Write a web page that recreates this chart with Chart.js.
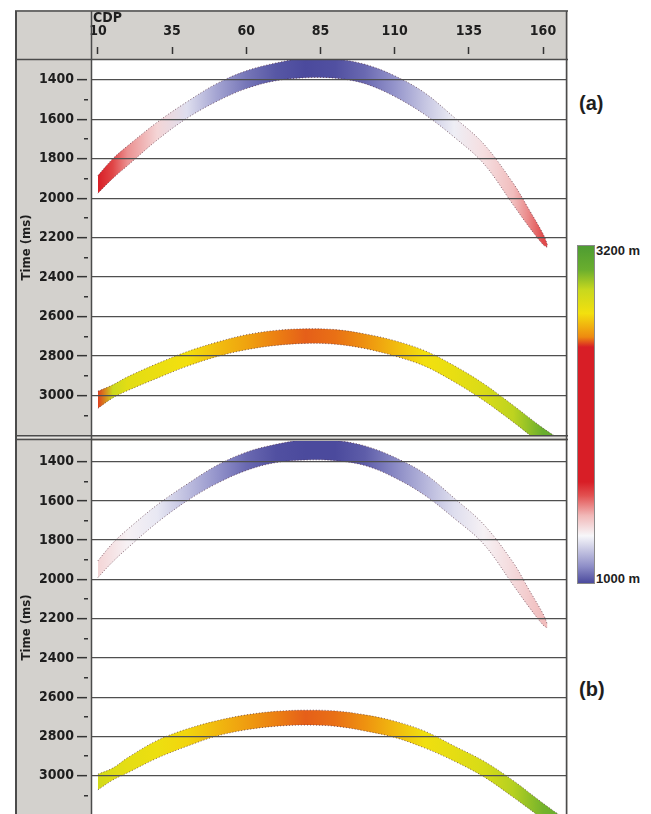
<!DOCTYPE html>
<html>
<head>
<meta charset="utf-8">
<script src="https://cdn.jsdelivr.net/npm/chart.js@4.4.1/dist/chart.umd.min.js"></script>
<style>
  html, body { margin: 0; padding: 0; background: #fff; overflow: hidden; }
  body { width: 651px; height: 814px; position: relative; }
  canvas { position: absolute; left: 15px; }
  #chartA { top: 10px; }
  #chartB { top: 438px; }
  .lbl { position: absolute; font-weight: bold; color: #1e1e1e; white-space: nowrap; font-family: 'Liberation Sans', Arial, sans-serif; }
  .narrow { font-family: 'Liberation Sans Narrow', 'DejaVu Sans Condensed', 'Liberation Sans', sans-serif; }
  #cbar { position: absolute; left: 577px; top: 245px; width: 16px; height: 337px; border: 1px solid #8a8a8a; }
</style>
</head>
<body>
<canvas id="chartA" width="553" height="428"></canvas>
<canvas id="chartB" width="553" height="376"></canvas>
<div class="lbl narrow" style="left:93px; top:9px; font-size:14px;">CDP</div>
<div class="lbl" style="left:579px; top:92px; font-size:20px;">(a)</div>
<div class="lbl" style="left:579px; top:678px; font-size:20px;">(b)</div>
<div id="cbar"></div>
<div class="lbl" style="left:596px; top:243px; font-size:13px;">3200 m</div>
<div class="lbl" style="left:596px; top:571px; font-size:13px;">1000 m</div>
<script>
  // axis ticks
  const cdpTicks = [10, 35, 60, 85, 110, 135, 160];
  const timeLabels = [1400, 1600, 1800, 2000, 2200, 2400, 2600, 2800, 3000];
  const timeTicks = [1400, 1500, 1600, 1700, 1800, 1900, 2000, 2100, 2200, 2300, 2400, 2500, 2600, 2700, 2800, 2900, 3000, 3100];

  // colour scale (interval velocity, m)
  const velRange = [1000, 3200];
  const cbarStops = [0, 0.05, 0.14, 0.2, 0.26, 0.3, 0.7, 0.73, 0.8, 0.87, 0.93, 1];
  const cbarColors = ['#4b4a9d', '#8f8fc8', '#f7f7fa', '#f1b8b8', '#e25050', '#d81e26', '#d81e26', '#ee8a10', '#f3e00e', '#c8d81e', '#6aae2e', '#4e9c32'];

  // (a) shallow event
  const cdpUpA = [10, 15, 20, 30, 40, 50, 60, 70, 80, 90, 100, 110, 120, 130, 140, 150, 155, 160, 161.5];
  const topUpA = [1885, 1800, 1735, 1615, 1512, 1420, 1355, 1315, 1290, 1295, 1322, 1380, 1465, 1590, 1725, 1925, 2050, 2180, 2235];
  const botUpA = [1975, 1900, 1835, 1705, 1595, 1510, 1445, 1405, 1390, 1392, 1420, 1485, 1575, 1690, 1825, 2035, 2140, 2235, 2250];
  const velUpA = [1660, 1590, 1490, 1380, 1260, 1150, 1070, 1020, 1000, 1010, 1050, 1120, 1210, 1290, 1360, 1430, 1500, 1580, 1580];

  // (a) deep event
  const cdpLoA = [10, 15, 20, 30, 40, 50, 60, 70, 80, 90, 100, 110, 120, 130, 140, 150, 160, 166];
  const topLoA = [2978, 2946, 2905, 2838, 2778, 2730, 2692, 2670, 2662, 2666, 2688, 2722, 2772, 2848, 2940, 3050, 3165, 3225];
  const botLoA = [3065, 3012, 2975, 2912, 2852, 2803, 2768, 2746, 2736, 2740, 2762, 2800, 2850, 2930, 3025, 3135, 3250, 3300];
  const velLoA = [2560, 2900, 2820, 2790, 2760, 2700, 2650, 2600, 2580, 2590, 2620, 2690, 2760, 2800, 2850, 2930, 3050, 3080];

  // (b) shallow event
  const cdpUpB = [10, 15, 20, 30, 40, 50, 60, 70, 80, 90, 100, 110, 120, 130, 140, 150, 155, 160, 161.5];
  const topUpB = [1905, 1815, 1745, 1620, 1515, 1420, 1352, 1312, 1288, 1292, 1320, 1378, 1460, 1585, 1720, 1915, 2045, 2175, 2230];
  const botUpB = [1990, 1910, 1840, 1710, 1600, 1512, 1445, 1405, 1392, 1395, 1420, 1482, 1570, 1688, 1820, 2030, 2135, 2232, 2248];
  const velUpB = [1380, 1350, 1320, 1280, 1200, 1120, 1050, 1010, 1000, 1000, 1030, 1100, 1180, 1260, 1320, 1370, 1400, 1430, 1430];

  // (b) deep event
  const cdpLoB = [10, 15, 20, 30, 40, 50, 60, 70, 80, 90, 100, 110, 120, 130, 140, 150, 160, 166];
  const topLoB = [2992, 2961, 2908, 2820, 2762, 2720, 2690, 2672, 2666, 2670, 2690, 2722, 2772, 2848, 2925, 3025, 3140, 3205];
  const botLoB = [3072, 3022, 2985, 2910, 2850, 2798, 2766, 2748, 2742, 2748, 2772, 2805, 2858, 2925, 3005, 3110, 3222, 3290];
  const velLoB = [2880, 2840, 2810, 2780, 2740, 2690, 2640, 2600, 2580, 2590, 2620, 2690, 2770, 2810, 2860, 2940, 3030, 3060];

  const FONT = "'Liberation Sans Narrow', 'DejaVu Sans Condensed', 'Liberation Sans', sans-serif";
  const GRAY = '#d3d1cd';
  const LINE = '#4b4b4b';
  const INK = '#1e1e1e';

  function hexToRgb(h) {
    const n = parseInt(h.slice(1), 16);
    return [(n >> 16) & 255, (n >> 8) & 255, n & 255];
  }

  function velColor(v) {
    const f = Math.min(1, Math.max(0, (v - velRange[0]) / (velRange[1] - velRange[0])));
    let i = 0;
    while (i < cbarStops.length - 2 && f > cbarStops[i + 1]) i++;
    const t = (f - cbarStops[i]) / (cbarStops[i + 1] - cbarStops[i]);
    const a = hexToRgb(cbarColors[i]);
    const b = hexToRgb(cbarColors[i + 1]);
    const c = a.map((x, k) => Math.round(x + (b[k] - x) * t));
    return `rgb(${c[0]},${c[1]},${c[2]})`;
  }

  function bandFill(cdp, vel) {
    return (ctx) => {
      const chart = ctx.chart;
      const area = chart.chartArea;
      if (!area) return 'rgba(0,0,0,0)';
      const xs = chart.scales.x;
      const g = chart.ctx.createLinearGradient(area.left, 0, area.right, 0);
      cdp.forEach((c, i) => {
        const p = (xs.getPixelForValue(c) - area.left) / (area.right - area.left);
        g.addColorStop(Math.min(1, Math.max(0, p)), velColor(vel[i]));
      });
      return g;
    };
  }

  function band(cdp, top, bot, vel) {
    const edge = {
      borderColor: 'rgba(80,40,55,0.7)',
      borderWidth: 1,
      borderDash: [1, 2],
      pointRadius: 0,
      tension: 0.35
    };
    return [
      { ...edge, data: cdp.map((c, i) => ({ x: c, y: top[i] })), fill: false },
      { ...edge, data: cdp.map((c, i) => ({ x: c, y: bot[i] })), fill: '-1', backgroundColor: bandFill(cdp, vel) }
    ];
  }

  // grey frame, white plot area and the panel rules
  const framePlugin = {
    id: 'frame',
    beforeDraw(chart, args, opts) {
      const { ctx, width, height, chartArea: a } = chart;
      ctx.save();
      ctx.fillStyle = GRAY;
      ctx.fillRect(0, 0, width, height);
      if (opts.bottomLine) {
        ctx.fillStyle = '#e4e3e0';
        ctx.fillRect(0, a.bottom, width, height - a.bottom);
      }
      ctx.fillStyle = '#fff';
      ctx.fillRect(a.left, a.top, a.right - a.left, a.bottom - a.top);
      ctx.restore();
    },
    afterDraw(chart, args, opts) {
      const { ctx, width, height, chartArea: a } = chart;
      const line = (x1, y1, x2, y2, w) => {
        ctx.lineWidth = w;
        ctx.beginPath();
        ctx.moveTo(x1, y1);
        ctx.lineTo(x2, y2);
        ctx.stroke();
      };
      ctx.save();
      ctx.strokeStyle = LINE;
      const yTop = opts.header ? 1 : 0;
      line(1, yTop, 1, height, 2);
      line(width - 1.5, yTop, width - 1.5, height, 1.5);
      line(a.left - 0.5, yTop, a.left - 0.5, height, 1.5);
      if (opts.header) {
        line(0, 1, width, 1, 1.5);
        line(0, a.top - 0.5, width, a.top - 0.5, 1.5);
      }
      if (opts.bottomLine) line(0, a.bottom + 0.75, width, a.bottom + 0.75, 1.5);
      if (opts.topLine) line(0, a.top - 1.5, width, a.top - 1.5, 1.5);
      ctx.restore();
    }
  };

  // no label overhang padding, the plot fills the panel
  function noOverhang(s) {
    s.paddingTop = 0;
    s.paddingBottom = 0;
    s.paddingLeft = 0;
    s.paddingRight = 0;
  }

  function makeChart(id, events, yMin, yMax, showTop, frameOpts, padding) {
    return new Chart(document.getElementById(id), {
      type: 'line',
      data: { datasets: events.flatMap(e => band(...e)) },
      options: {
        responsive: false,
        animation: false,
        layout: { padding, autoPadding: false },
        plugins: {
          legend: { display: false },
          tooltip: { enabled: false },
          frame: frameOpts
        },
        scales: {
          x: {
            type: 'linear',
            position: 'top',
            min: 8,
            max: 167.75,
            display: showTop,
            afterBuildTicks: s => { s.ticks = cdpTicks.map(v => ({ value: v })); },
            afterFit: s => { s.height = showTop ? 50 : 0; noOverhang(s); },
            border: { display: false },
            grid: {
              drawOnChartArea: false,
              tickLength: 13,
              tickColor: '#333',
              tickWidth: 1.5,
              tickBorderDash: [7, 20]
            },
            ticks: {
              autoSkip: false,
              maxRotation: 0,
              padding: 7,
              color: INK,
              font: { family: FONT, size: 14, weight: 'bold' }
            }
          },
          y: {
            type: 'linear',
            reverse: true,
            min: yMin,
            max: yMax,
            afterBuildTicks: s => { s.ticks = timeTicks.map(v => ({ value: v })); },
            afterFit: s => { s.width = 77; noOverhang(s); },
            border: { display: false },
            title: {
              display: true,
              text: 'Time (ms)',
              color: INK,
              font: { family: FONT, size: 13, weight: 'bold' },
              padding: { top: 4, bottom: 0 }
            },
            grid: {
              z: 1,
              lineWidth: 1.3,
              color: c => (c.tick && timeLabels.includes(c.tick.value)) ? '#4f4f4f' : 'rgba(0,0,0,0)',
              tickLength: 15,
              tickWidth: 1.5,
              tickColor: '#333',
              tickBorderDash: c => (c.tick && timeLabels.includes(c.tick.value)) ? [10, 20] : [0, 7, 4, 20]
            },
            ticks: {
              autoSkip: false,
              padding: 3,
              color: INK,
              font: { family: FONT, size: 14, weight: 'bold' },
              callback: v => timeLabels.includes(v) ? String(v) : ''
            }
          }
        }
      },
      plugins: [framePlugin]
    });
  }

  makeChart('chartA',
    [[cdpUpA, topUpA, botUpA, velUpA], [cdpLoA, topLoA, botLoA, velLoA]],
    1300, 3200, true,
    { header: true, bottomLine: true },
    { top: 0, bottom: 3, left: 0, right: 2 });

  makeChart('chartB',
    [[cdpUpB, topUpB, botUpB, velUpB], [cdpLoB, topLoB, botLoB, velLoB]],
    1295, 3195, false,
    { topLine: true },
    { top: 3, bottom: 0, left: 0, right: 2 });

  document.getElementById('cbar').style.background =
    'linear-gradient(to top, ' + cbarColors.map((c, i) => `${c} ${cbarStops[i] * 100}%`).join(', ') + ')';
</script>
</body>
</html>
